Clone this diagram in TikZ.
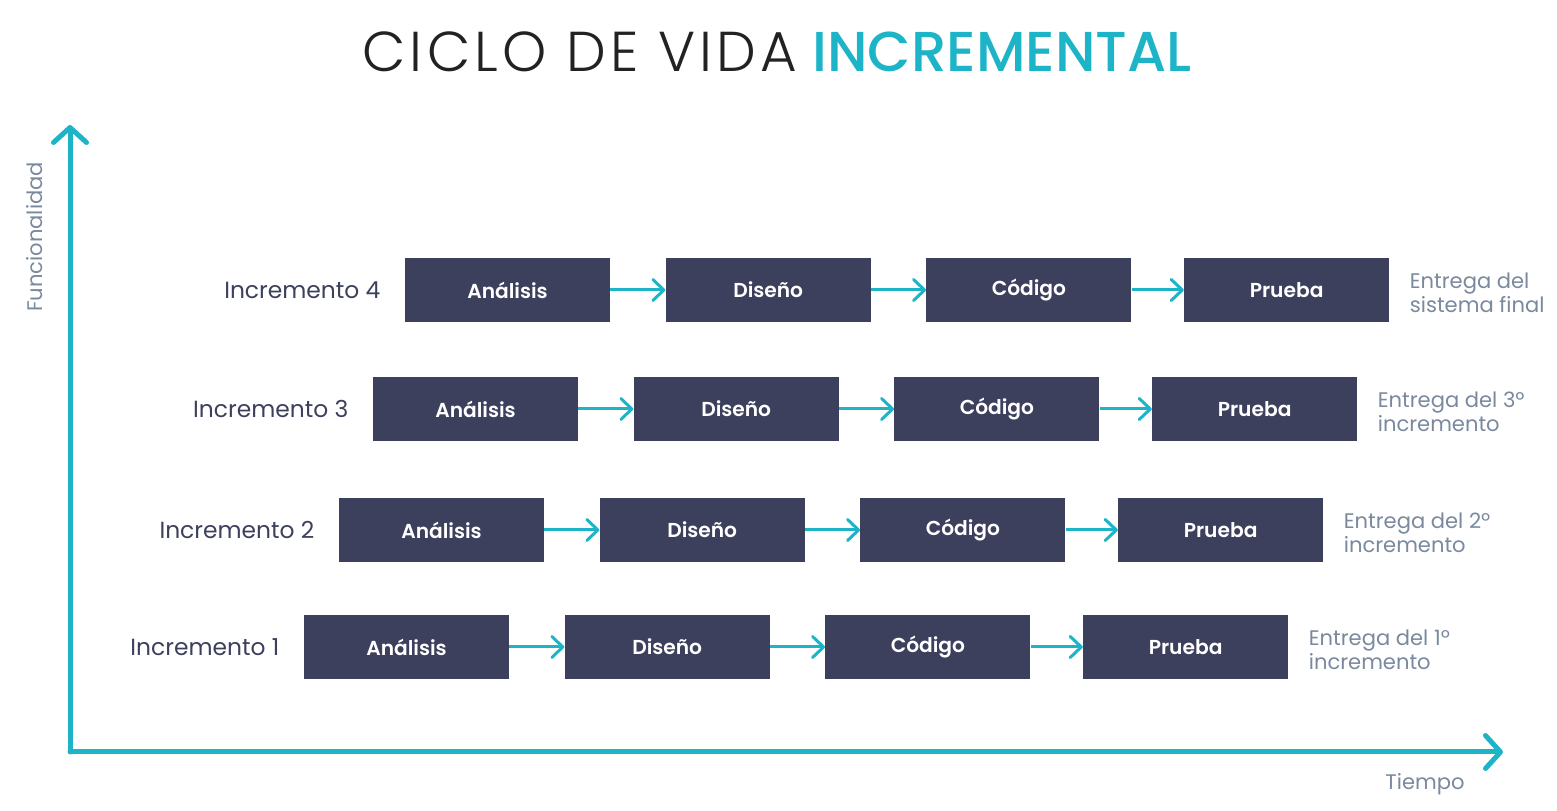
\documentclass[tikz,border=0pt]{standalone}
\usepackage{fontspec}
\setmainfont{Poppins}
\newfontfamily\ligero{Poppins Light}[LetterSpace=7.5]
\newfontfamily\medio{Poppins Medium}
\newfontfamily\grueso{Poppins SemiBold}
\usetikzlibrary{positioning, arrows.meta}

\definecolor{cian}{RGB}{30,180,200}
\definecolor{marino}{RGB}{60,64,92}
\definecolor{grisazul}{RGB}{122,137,158}
\definecolor{tinta}{RGB}{34,34,34}

\begin{document}
\begin{tikzpicture}[node distance=1.1cm,
  fase/.style={rectangle, fill=marino, text=white, minimum width=4.1cm, minimum height=1.27cm, inner sep=0pt, font=\grueso\fontsize{11.5}{14}\selectfont},
  incremento/.style={text=marino, font=\fontsize{13.3}{16}\selectfont, inner sep=0pt},
  entrega/.style={text=grisazul, align=left, font=\fontsize{12}{11.6}\selectfont, inner sep=0pt, yshift=-0.06cm},
  eje/.style={line width=0.1cm, cian, line cap=round, -{Straight Barb[length=0.3cm, width=0.66cm, round]}},
  arrow/.style={line width=0.06cm, cian, -{Straight Barb[length=0.22cm, width=0.42cm, round]}}
]
\useasboundingbox (0,0) rectangle (31.14,16.22);

% titulo
\node (titulo) at (15.54,15.18) {\fontsize{32}{36}\selectfont{\ligero\color{tinta}CICLO DE VIDA} {\addfontfeature{LetterSpace=2.5}\medio\color{cian}INCREMENTAL}};

% ejes
\coordinate (origen) at (1.4,1.18);
\coordinate (ytop) at (1.4,13.72);
\coordinate (xend) at (30.06,1.18);
\draw [eje] (origen) -- (ytop);
\draw [eje] (origen) -- (xend);
\node (funcionalidad) [text=grisazul, rotate=90, font=\fontsize{12}{14}\selectfont] at (0.7,11.48) {Funcionalidad};
\node (tiempo) [text=grisazul, font=\fontsize{12}{14}\selectfont] at (28.5,0.54) {Tiempo};

% incremento 4
\node (a4) [fase] at (10.15,10.42) {Análisis};
\node (d4) [fase, right=of a4] {Diseño};
\node (c4) [fase, right=of d4] {Código};
\node (p4) [fase, right=of c4, xshift=-0.06cm] {Prueba};
\node (inc4) [incremento, left=0.48cm of a4] {Incremento 4};
\node (ent4) [entrega, right=0.4cm of p4] {Entrega del\\sistema final};

% incremento 3
\node (a3) [fase] at (9.51,8.04) {Análisis};
\node (d3) [fase, right=of a3] {Diseño};
\node (c3) [fase, right=of d3] {Código};
\node (p3) [fase, right=of c3, xshift=-0.06cm] {Prueba};
\node (inc3) [incremento, left=0.48cm of a3] {Incremento 3};
\node (ent3) [entrega, right=0.4cm of p3] {Entrega del 3º\\incremento};

% incremento 2
\node (a2) [fase] at (8.83,5.62) {Análisis};
\node (d2) [fase, right=of a2] {Diseño};
\node (c2) [fase, right=of d2] {Código};
\node (p2) [fase, right=of c2, xshift=-0.06cm] {Prueba};
\node (inc2) [incremento, left=0.48cm of a2] {Incremento 2};
\node (ent2) [entrega, right=0.4cm of p2] {Entrega del 2º\\incremento};

% incremento 1
\node (a1) [fase] at (8.13,3.28) {Análisis};
\node (d1) [fase, right=of a1] {Diseño};
\node (c1) [fase, right=of d1] {Código};
\node (p1) [fase, right=of c1, xshift=-0.06cm] {Prueba};
\node (inc1) [incremento, left=0.48cm of a1] {Incremento 1};
\node (ent1) [entrega, right=0.4cm of p1] {Entrega del 1º\\incremento};

\draw [arrow] (a4) -- (d4);
\draw [arrow] (d4) -- (c4);
\draw [arrow] (c4) -- (p4);
\draw [arrow] (a3) -- (d3);
\draw [arrow] (d3) -- (c3);
\draw [arrow] (c3) -- (p3);
\draw [arrow] (a2) -- (d2);
\draw [arrow] (d2) -- (c2);
\draw [arrow] (c2) -- (p2);
\draw [arrow] (a1) -- (d1);
\draw [arrow] (d1) -- (c1);
\draw [arrow] (c1) -- (p1);

\end{tikzpicture}
\end{document}
